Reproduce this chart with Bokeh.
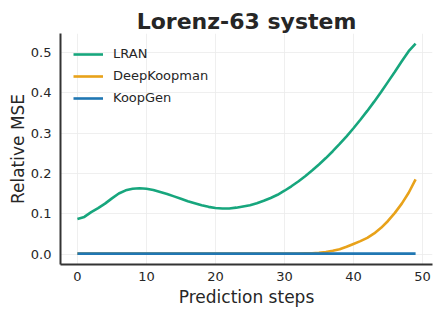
from bokeh.plotting import figure
from bokeh.models import Range1d, Legend, LegendItem, SingleIntervalTicker, PrintfTickFormatter
from bokeh.embed import file_html
from bokeh.resources import INLINE

steps = list(range(50))
lran = [0.087, 0.092, 0.104, 0.114, 0.125, 0.138, 0.150, 0.158, 0.162, 0.163,
        0.162, 0.159, 0.154, 0.149, 0.143, 0.137, 0.131, 0.126, 0.121, 0.117,
        0.114, 0.113, 0.113, 0.115, 0.118, 0.121, 0.126, 0.132, 0.139, 0.147,
        0.157, 0.168, 0.180, 0.193, 0.207, 0.222, 0.238, 0.255, 0.273, 0.292,
        0.312, 0.333, 0.355, 0.378, 0.402, 0.427, 0.452, 0.478, 0.503, 0.522]
deepkoopman = [0.001] * 33 + [0.0015, 0.002, 0.003, 0.005, 0.008, 0.012, 0.018,
               0.025, 0.032, 0.040, 0.051, 0.065, 0.082, 0.102, 0.125, 0.152, 0.185]
koopgen = [0.001] * 50

FONT = "DejaVu Sans"
TXT = "#262626"

p = figure(width=442, height=317, output_backend="svg", toolbar_location=None,
           x_range=Range1d(-2.45, 51.45), y_range=Range1d(-0.026, 0.547),
           min_border_left=60, min_border_right=10, min_border_top=33, min_border_bottom=53)
p.outline_line_color = None
p.background_fill_color = "white"
p.border_fill_color = "white"

p.title.text = "Lorenz-63 system"
p.title.text_font = FONT
p.title.text_font_size = "22px"
p.title.text_font_style = "bold"
p.title.text_color = TXT
p.title.align = "center"
p.title.standoff = 0
p.title.offset = 0

for ax in (p.xaxis[0], p.yaxis[0]):
    ax.axis_line_color = "#333333"
    ax.axis_line_width = 2
    ax.major_tick_line_color = None
    ax.minor_tick_line_color = None
    ax.major_tick_out = 0
    ax.major_tick_in = 0
    ax.major_label_text_font = FONT
    ax.major_label_text_font_size = "13px"
    ax.major_label_text_color = TXT
    ax.axis_label_text_font = FONT
    ax.axis_label_text_font_size = "17px"
    ax.axis_label_text_font_style = "normal"
    ax.axis_label_text_color = TXT

p.xaxis.axis_label = "Prediction steps"
p.yaxis.axis_label = "Relative MSE"
p.xaxis.ticker = SingleIntervalTicker(interval=10)
p.yaxis.ticker = SingleIntervalTicker(interval=0.1)
p.yaxis.formatter = PrintfTickFormatter(format="%.1f")
p.xaxis.major_label_standoff = 3
p.yaxis.major_label_standoff = 5
p.xaxis.axis_label_standoff = 3
p.yaxis.axis_label_standoff = 0

p.grid.grid_line_color = "#ebebeb"
p.grid.grid_line_width = 0.8

r1 = p.line(steps, lran, line_color="#17a67d", line_width=2.6)
r2 = p.line(steps, deepkoopman, line_color="#e8a21a", line_width=2.6)
r3 = p.line(steps, koopgen, line_color="#2077b3", line_width=2.6)

legend = Legend(items=[LegendItem(label="LRAN", renderers=[r1]),
                       LegendItem(label="DeepKoopman", renderers=[r2]),
                       LegendItem(label="KoopGen", renderers=[r3])],
                location="top_left", margin=0, padding=13, spacing=7,
                glyph_width=30, glyph_height=14, label_height=14, label_standoff=10,
                label_text_font=FONT, label_text_font_size="13px", label_text_color=TXT,
                background_fill_alpha=0, border_line_alpha=0)
p.add_layout(legend)

open("out.html", "w").write(file_html(p, INLINE))
